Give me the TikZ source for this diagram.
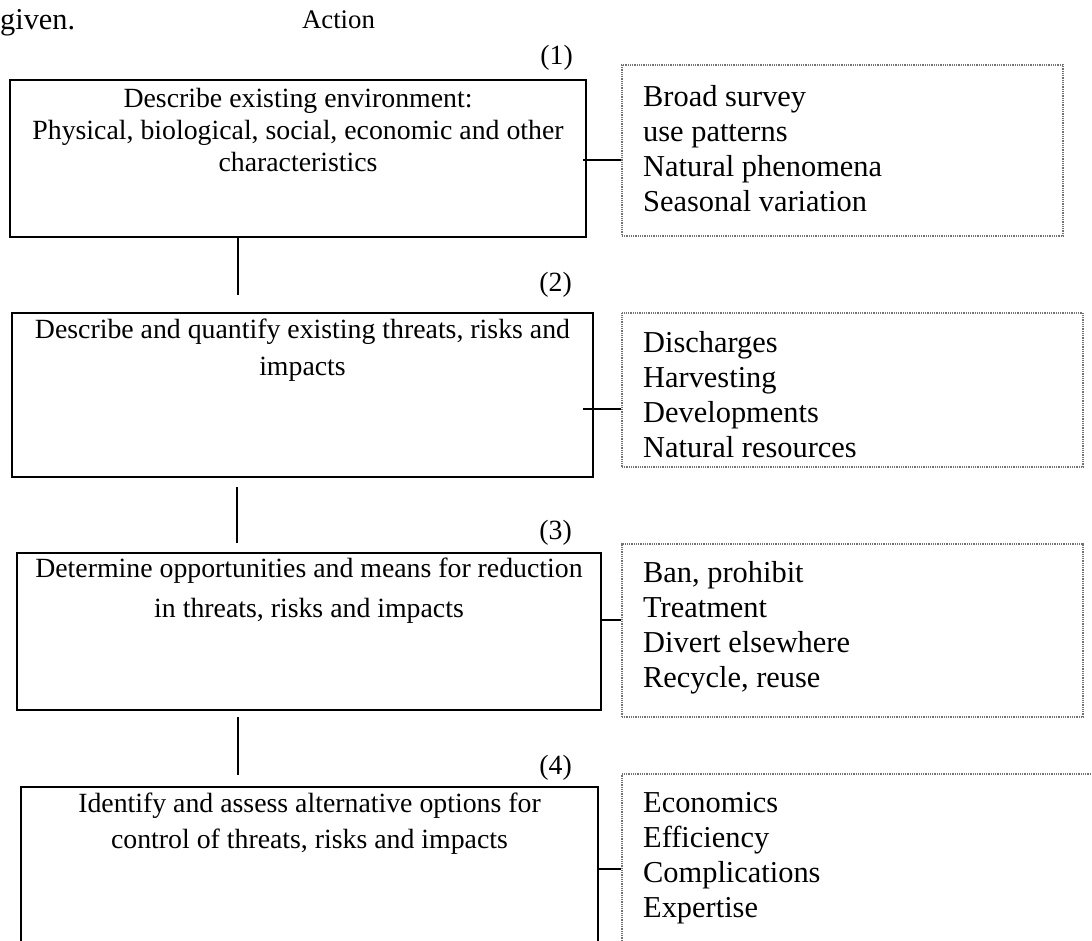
\documentclass[tikz,border=0pt]{standalone}
\usepackage{fontspec}
\setmainfont{Liberation Serif}
\begin{document}
\begin{tikzpicture}[x=1pt,y=-1pt,
  mainbox/.style={draw=black, line width=2.4pt, rectangle, inner sep=0pt},
  sidebox/.style={draw=black!55, line width=1.2pt, dash pattern=on 1pt off 0.8pt, rectangle, inner sep=0pt},
  boxtext/.style={align=center, inner sep=0pt, anchor=north},
  sidetext/.style={align=left, inner sep=0pt, anchor=north west, font=\fontsize{30.4}{35}\selectfont},
  numlabel/.style={inner sep=0pt, anchor=east, font=\fontsize{27.8}{30}\selectfont},
  link/.style={line width=1.5pt}]
\useasboundingbox (0,0) rectangle (1092,941);
\clip (0,0) rectangle (1092,941);

% header texts
\node[inner sep=0pt, anchor=base west, font=\fontsize{30.3}{32}\selectfont] (given) at (0,30) {given.};
\node[inner sep=0pt, anchor=base, font=\fontsize{26.8}{30}\selectfont] (action) at (338.5,29) {Action};

% step numbers
\node[numlabel] (n1) at (573,58) {(1)};
\node[numlabel] (n2) at (572,285) {(2)};
\node[numlabel] (n3) at (572,533) {(3)};
\node[numlabel] (n4) at (572,768) {(4)};

% main boxes
\node[mainbox, minimum width=576pt, minimum height=157pt] (b1) at (298,158.5) {};
\node[mainbox, minimum width=581pt, minimum height=164pt] (b2) at (302.5,395) {};
\node[mainbox, minimum width=584pt, minimum height=157pt] (b3) at (309,631.5) {};
\node[mainbox, minimum width=577pt, minimum height=190pt] (b4) at (309.5,882) {};

\node[boxtext, font=\fontsize{27.8}{32}\selectfont] (t1) at (298,88)
  {Describe existing environment:\\Physical, biological, social, economic and other\\characteristics};
\node[boxtext, font=\fontsize{27.8}{37}\selectfont] (t2) at (302.5,319)
  {Describe and quantify existing threats, risks and\\impacts};
\node[boxtext, font=\fontsize{27.8}{40}\selectfont] (t3) at (309,558)
  {Determine opportunities and means for reduction\\in threats, risks and impacts};
\node[boxtext, font=\fontsize{27.8}{36}\selectfont] (t4) at (309.5,793)
  {Identify and assess alternative options for\\control of threats, risks and impacts};

% side boxes
\node[sidebox, minimum width=441pt, minimum height=171pt] (r1) at (842.5,150.5) {};
\node[sidebox, minimum width=461pt, minimum height=154pt] (r2) at (852.5,390) {};
\node[sidebox, minimum width=461pt, minimum height=173pt] (r3) at (852.5,630.5) {};
\node[sidebox, minimum width=500pt, minimum height=200pt] (r4) at (872,874) {};

\node[sidetext] (l1) at (643,85) {Broad survey\\use patterns\\Natural phenomena\\Seasonal variation};
\node[sidetext] (l2) at (643,331) {Discharges\\Harvesting\\Developments\\Natural resources};
\node[sidetext] (l3) at (643,561) {Ban, prohibit\\Treatment\\Divert elsewhere\\Recycle, reuse};
\node[sidetext] (l4) at (643,792) {Economics\\Efficiency\\Complications\\Expertise};

% vertical connectors
\coordinate (v1e) at (238,295);
\coordinate (v2s) at (237,487);
\coordinate (v2e) at (237,543);
\coordinate (v3s) at (238,717);
\coordinate (v3e) at (238,775);
\draw[link] (v1e |- b1.south) -- (v1e);
\draw[link] (v2s) -- (v2e);
\draw[link] (v3s) -- (v3e);

% side stubs
\coordinate (s1) at (583,160);
\coordinate (s2) at (583,409);
\coordinate (s3) at (601,620);
\coordinate (s4) at (598,869);
\draw[link] (s1) -- (s1 -| r1.west);
\draw[link] (s2) -- (s2 -| r2.west);
\draw[link] (s3) -- (s3 -| r3.west);
\draw[link] (s4) -- (s4 -| r4.west);
\end{tikzpicture}
\end{document}
